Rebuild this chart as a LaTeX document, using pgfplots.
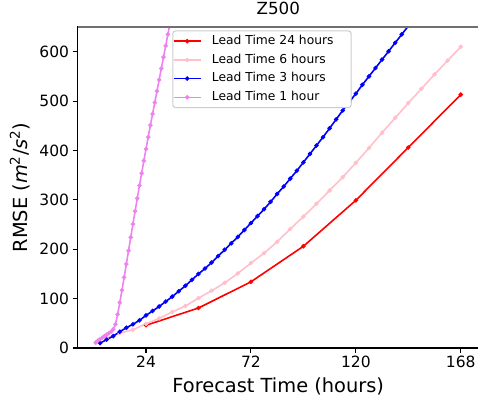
\documentclass[border=0pt]{standalone}
\usepackage{fontspec}
\setmainfont{DejaVu Sans}
\usepackage{pgfplots}
\pgfplotsset{compat=1.18}
\definecolor{mplpink}{HTML}{FFC0CB}
\definecolor{mplviolet}{HTML}{EE82EE}
\definecolor{mplblue}{HTML}{0000FF}
\definecolor{mplred}{HTML}{FF0000}
\definecolor{topgray}{HTML}{707070}
\definecolor{legframe}{HTML}{CCCCCC}
\begin{document}
\begin{tikzpicture}
\useasboundingbox (0,0) rectangle (478pt,404pt);
\begin{axis}[
  at={(77.5pt,56pt)}, anchor=south west,
  scale only axis, width=401.5pt, height=321pt,
  xmin=-7.35, xmax=176.35, ymin=0, ymax=650,
  xtick={24,72,120,168}, ytick={0,100,200,300,400,500,600},
  tick align=outside, xtick pos=bottom, ytick pos=left,
  major tick length=4.9pt,
  every tick/.style={black, line width=1.1pt},
  axis line style={line width=1.1pt},
  /pgf/number format/assume math mode=true,
  tick label style={font=\fontsize{15.5}{18}\selectfont},
  title={Z500},
  title style={at={(axis description cs:0.5,1.0202)}, anchor=base, font=\fontsize{16.7}{20}\selectfont},
  xlabel={Forecast Time (hours)},
  xlabel style={at={(axis description cs:0.5,-0.14)}, anchor=base, font=\fontsize{19.4}{23}\selectfont},
  ylabel={RMSE (\textit{m}\textsuperscript{2}/\textit{s}\textsuperscript{2})},
  ylabel style={at={(axis description cs:-0.1245,0.5)}, anchor=base, font=\fontsize{19.4}{23}\selectfont},
  legend style={at={(axis description cs:0.2363,0.9891)}, anchor=north west,
    font=\fontsize{12.3}{14}\selectfont, draw=legframe, line width=1pt,
    rounded corners=2.5pt, fill=white, inner xsep=0pt, inner ysep=2.3pt, row sep=2.9pt,
    nodes={inner xsep=4.5pt, inner ysep=2pt, text height=9.2pt, text depth=2.6pt, anchor=west}},
  legend cell align=left,
  legend image code/.code={\draw[line width=1.6pt, mark repeat=2, mark phase=2, mark options={solid, line width=0.9pt}] plot coordinates {(0pt,0pt)(13.5pt,0pt)(27pt,0pt)};},
  every axis plot/.append style={line width=1.6pt, mark=*, mark size=1.8pt, mark options={solid, line width=0.9pt}},
  after end axis/.code={\draw[topgray, line width=2pt] (rel axis cs:0,1) -- (rel axis cs:1,1);},
]
\addplot[mplred] coordinates {
(24,46) (48,81) (72,134) (96,206) (120,299) (144,406) (168,513)
};
\addlegendentry{\hspace*{6pt}Lead Time 24 hours\hspace*{13pt}}
\addplot[mplpink] coordinates {
(6,20) (12,30) (18,37) (24,49) (30,60) (36,73) (42,85) (48,101) (54,116) (60,132)
(66,151) (72,172) (78,192) (84,215) (90,241) (96,266) (102,292) (108,319) (114,346)
(120,375) (126,405) (132,436) (138,466) (144,496) (150,525) (156,554) (162,582) (168,610)
};
\addlegendentry{\hspace*{6pt}Lead Time 6 hours}
\addplot[mplblue] coordinates {
(3,10) (6,17) (9,24) (12,33) (15,41) (18,48) (21,56) (24,66) (27,75) (30,84) (33,94)
(36,104) (39,115) (42,126) (45,138) (48,150) (51,161) (54,173) (57,186) (60,199) (63,212)
(66,225) (69,239) (72,253) (75,267) (78,281) (81,296) (84,312) (87,327) (90,343) (93,359)
(96,376) (99,393) (102,410) (105,427) (108,445) (111,463) (114,481) (117,498) (120,515)
(123,533) (126,550) (129,567) (132,584) (135,601) (138,618) (141,635) (144,652) (147,669)
};
\addlegendentry{\hspace*{6pt}Lead Time 3 hours}
\addplot[mplviolet] coordinates {
(1,11) (2,15) (3,18) (4,21) (5,24) (6,27) (7,30) (8,33) (9,38) (10,48) (11,68) (12,92)
(13,117) (14,143) (15,170) (16,197) (17,224) (18,251) (19,277) (20,303) (21,329) (22,354)
(23,379) (24,403) (25,427) (26,451) (27,474) (28,497) (29,520) (30,543) (31,566) (32,589)
(33,612) (34,635) (35,658)
};
\addlegendentry{\hspace*{6pt}Lead Time 1 hour}
\end{axis}
\end{tikzpicture}
\end{document}
